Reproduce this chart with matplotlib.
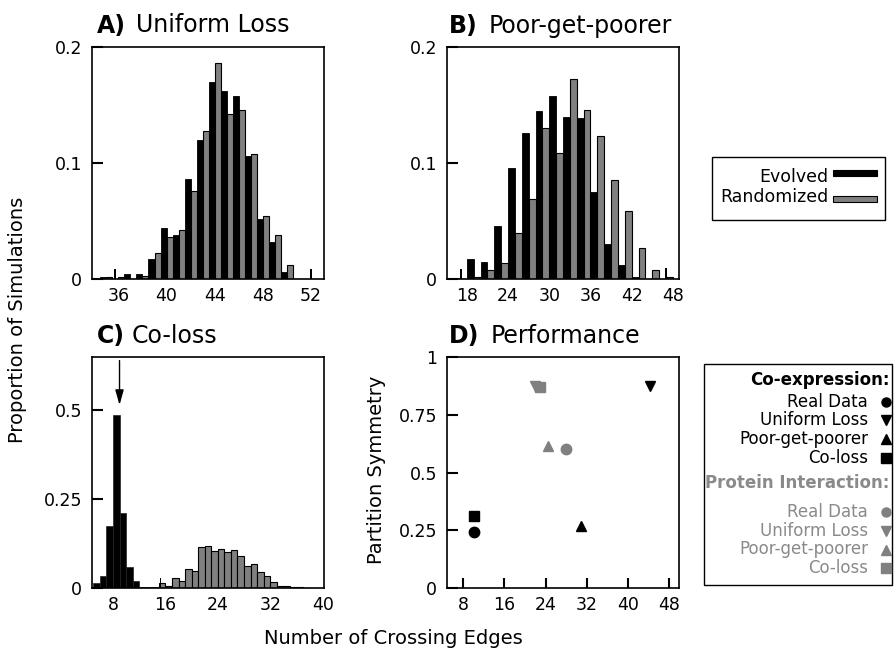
import matplotlib
matplotlib.use('Agg')
import matplotlib.pyplot as plt
import numpy as np
from matplotlib.patches import Rectangle
from matplotlib.lines import Line2D

plt.rcParams['font.family'] = ['DejaVu Sans']

# ---------------- data ----------------
# Panel A: Uniform Loss (bins of width 1)
a_x = [35, 36, 37, 38, 39, 40, 41, 42, 43, 44, 45, 46, 47, 48, 49, 50]
a_evolved = [0.002, 0.0, 0.0043, 0.0043, 0.017, 0.044, 0.038, 0.086, 0.120, 0.170,
             0.162, 0.158, 0.106, 0.052, 0.032, 0.006]
a_random = [0.002, 0.002, 0.0, 0.0022, 0.022, 0.036, 0.042, 0.076, 0.128, 0.186,
            0.142, 0.146, 0.108, 0.054, 0.038, 0.012]
a_spike_x = [35.7, 52.0]
a_spike_h = [0.0086, 0.0088]
a_xticks = [36, 40, 44, 48, 52]

# Panel B: Poor-get-poorer (bins of width 2)
b_x = [17, 19, 21, 23, 25, 27, 29, 31, 33, 35, 37, 39, 41, 43, 45, 47]
b_evolved = [0.001, 0.017, 0.015, 0.046, 0.096, 0.126, 0.145, 0.158, 0.140, 0.139,
             0.075, 0.030, 0.012, 0.002, 0.0, 0.0]
b_random = [0.0, 0.002, 0.008, 0.014, 0.040, 0.069, 0.130, 0.109, 0.172, 0.146,
            0.123, 0.085, 0.059, 0.027, 0.008, 0.0017]
b_spike_x = [17.2, 47.0]
b_spike_h = [0.0089, 0.0095]
b_xticks = [18, 24, 30, 36, 42, 48]

# Panel C: Co-loss (bins of width 1, left edges)
c_evolved_x = [5, 6, 7, 8, 9, 10, 11, 12, 13, 14]
c_evolved = [0.014, 0.035, 0.174, 0.487, 0.210, 0.058, 0.021, 0.002, 0.002, 0.002]
c_random_x = list(range(15, 39))
c_random = [0.014, 0.005, 0.028, 0.021, 0.053, 0.049, 0.114, 0.118, 0.104, 0.109,
            0.100, 0.107, 0.089, 0.063, 0.067, 0.045, 0.033, 0.016, 0.007, 0.005,
            0.002, 0.004, 0.001, 0.0]
c_spike_x = [15.25]
c_spike_h = [0.028]
c_arrow_x = 9.0
c_xticks = [8, 16, 24, 32, 40]

# Panel D: Performance
models = ['Real Data', 'Uniform Loss', 'Poor-get-poorer', 'Co-loss']
model_markers = ['o', 'v', '^', 's']
coexp_x = [10.0, 44.4, 31.0, 10.0]
coexp_y = [0.244, 0.875, 0.267, 0.313]
prot_x = [27.9, 21.9, 24.5, 23.0]
prot_y = [0.603, 0.875, 0.614, 0.869]
d_xticks = [8, 16, 24, 32, 40, 48]

# ---------------- figure ----------------
W, H = 894, 659
fig = plt.figure(figsize=(W / 100, H / 100), dpi=100)
GRAY = '#808080'
LGRAY = '#8a8a8a'


def rect(l, t, r, b):
    return [l / W, 1 - b / H, (r - l) / W, (b - t) / H]


def fx(x):
    return x / W


def fy(y):
    return 1 - y / H


axA = fig.add_axes(rect(92, 47, 324, 279))
axB = fig.add_axes(rect(447, 47, 679, 279))
axC = fig.add_axes(rect(92, 357, 324, 588))
axD = fig.add_axes(rect(447, 357, 679, 588))

for ax in (axA, axB, axC, axD):
    for s in ax.spines.values():
        s.set_linewidth(1.2)
    ax.tick_params(axis='y', direction='in', length=8, width=1.5,
                   labelsize=12.5, pad=7, right=False)
    ax.tick_params(axis='x', length=0, labelsize=12.5, pad=6, top=False)

# Panel A
ax = axA
ax.bar(np.array(a_x) - 0.25, a_evolved, width=0.5, color='black',
       edgecolor='black', linewidth=0.6)
ax.bar(np.array(a_x) + 0.25, a_random, width=0.5, color=GRAY,
       edgecolor='black', linewidth=0.8)
ax.bar(a_spike_x, a_spike_h, width=0.15, color='black', linewidth=0)
ax.set_xlim(33.8, 53.1)
ax.set_ylim(0, 0.2)
ax.set_xticks(a_xticks)
ax.set_yticks([0, 0.1, 0.2])
ax.set_yticklabels(['0', '0.1', '0.2'])

# Panel B
ax = axB
ax.bar(np.array(b_x) - 0.5, b_evolved, width=1.0, color='black',
       edgecolor='black', linewidth=0.6)
ax.bar(np.array(b_x) + 0.5, b_random, width=1.0, color=GRAY,
       edgecolor='black', linewidth=0.8)
ax.bar(b_spike_x, b_spike_h, width=0.3, color='black', linewidth=0)
ax.set_xlim(15.1, 48.9)
ax.set_ylim(0, 0.2)
ax.set_xticks(b_xticks)
ax.set_yticks([0, 0.1, 0.2])
ax.set_yticklabels(['0', '0.1', '0.2'])

# Panel C
ax = axC
ax.bar(c_evolved_x, c_evolved, width=1.0, align='edge', color='black',
       edgecolor='#222222', linewidth=0.5)
ax.bar(c_random_x, c_random, width=1.0, align='edge', color=GRAY,
       edgecolor='black', linewidth=0.8)
ax.bar(c_spike_x, c_spike_h, width=0.3, color='black', linewidth=0)
ax.annotate('', xy=(c_arrow_x, 0.515), xytext=(c_arrow_x, 0.64),
            arrowprops=dict(arrowstyle='-|>,head_length=0.6,head_width=0.17',
                            color='black', lw=1.0, mutation_scale=15,
                            shrinkA=0, shrinkB=0))
ax.set_xlim(4.8, 40.2)
ax.set_ylim(0, 0.65)
ax.set_xticks(c_xticks)
ax.set_yticks([0, 0.25, 0.5])
ax.set_yticklabels(['0', '0.25', '0.5'])

# Panel D
ax = axD
sizes = [7.5, 7.5, 7.5, 7.8]
for i in range(len(models)):
    ax.plot(prot_x[i], prot_y[i], marker=model_markers[i], color=GRAY,
            markersize=sizes[i], linestyle='none')
for i in range(len(models)):
    ax.plot(coexp_x[i], coexp_y[i], marker=model_markers[i], color='black',
            markersize=sizes[i], linestyle='none')
ax.set_xlim(4.8, 50)
ax.set_ylim(0, 1)
ax.set_xticks(d_xticks)
ax.set_yticks([0, 0.25, 0.5, 0.75, 1])
ax.set_yticklabels(['0', '0.25', '0.5', '0.75', '1'])
ax.tick_params(axis='x', direction='in', length=7, width=1.5, pad=6)

# Titles
titles = [('A)', 'Uniform Loss', 97, 136, 32.5),
          ('B)', 'Poor-get-poorer', 449, 489, 32.5),
          ('C)', 'Co-loss', 97, 132, 342.7),
          ('D)', 'Performance', 449, 491, 342.7)]
for lab, name, x1, x2, yb in titles:
    fig.text(fx(x1), fy(yb), lab, fontsize=17, fontweight='bold', va='baseline')
    fig.text(fx(x2), fy(yb), name, fontsize=17, va='baseline')

# Axis labels
fig.text(fx(18), fy(320), 'Proportion of Simulations', rotation=90,
         ha='center', va='center', fontsize=14)
fig.text(fx(376), fy(470), 'Partition Symmetry', rotation=90,
         ha='center', va='center', fontsize=14)
fig.text(fx(393), fy(638), 'Number of Crossing Edges', ha='center',
         va='center', fontsize=14)

# Legend 1 (bars)
fig.add_artist(Rectangle((fx(711.5), fy(220)), (885 - 711.5) / W, (220 - 157.3) / H,
                         transform=fig.transFigure, fill=False,
                         edgecolor='black', linewidth=1.0))
for label, color, yb, yc in [('Evolved', 'black', 182.3, 173),
                             ('Randomized', GRAY, 202.3, 199.4)]:
    fig.text(fx(828), fy(yb), label, ha='right', va='baseline', fontsize=12.5)
    fig.add_artist(Rectangle((fx(833), fy(yc + 3)), 44 / W, 6 / H,
                             transform=fig.transFigure, facecolor=color,
                             edgecolor='black', linewidth=0.8))

# Legend 2 (markers)
fig.add_artist(Rectangle((fx(703.5), fy(585)), (891.5 - 703.5) / W, (585 - 364) / H,
                         transform=fig.transFigure, fill=False,
                         edgecolor='black', linewidth=1.0))
fig.text(fx(889.5), fy(385), 'Co-expression:', ha='right', va='baseline',
         fontsize=12, fontweight='bold', color='black')
fig.text(fx(889.5), fy(488.3), 'Protein Interaction:', ha='right', va='baseline',
         fontsize=12, fontweight='bold', color=LGRAY)
base1 = [406.7, 425.3, 444.3, 463.3]
base2 = [516.7, 535.7, 554.5, 573.3]
for i, name in enumerate(models):
    for bases, col, tcol in [(base1, 'black', 'black'), (base2, GRAY, LGRAY)]:
        yb = bases[i]
        fig.text(fx(868), fy(yb), name, ha='right', va='baseline',
                 fontsize=12, color=tcol)
        fig.add_artist(Line2D([fx(885.5)], [fy(yb - 5)], marker=model_markers[i],
                              color=col, markersize=6.5, linestyle='none',
                              transform=fig.transFigure))

fig.savefig('out.png', dpi=100)
